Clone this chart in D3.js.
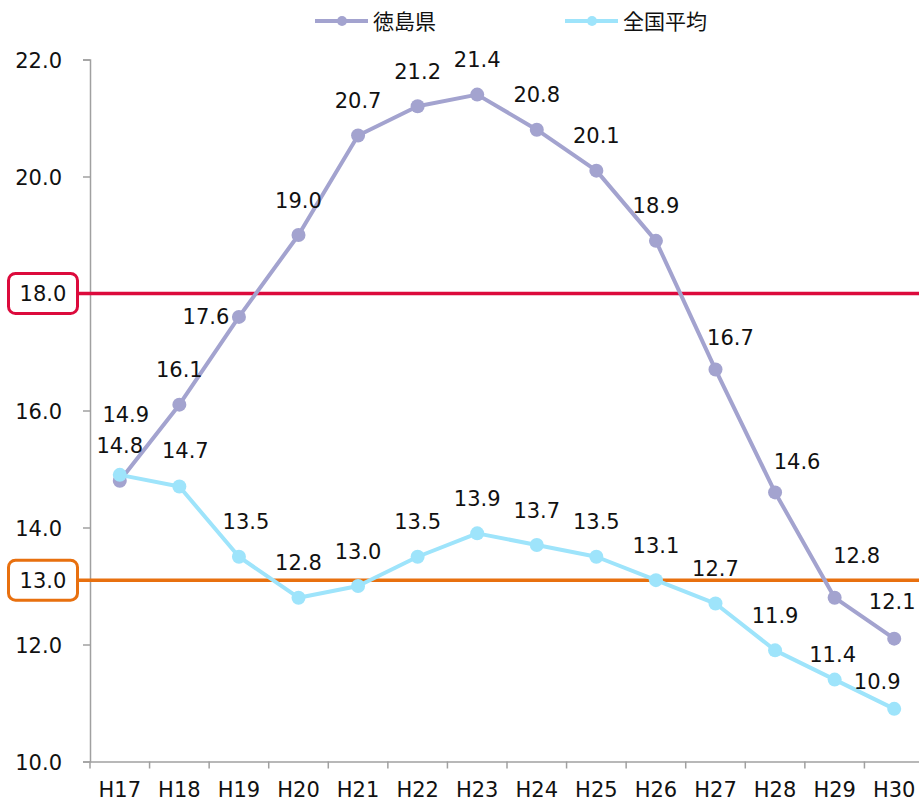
<!DOCTYPE html>
<html>
<head>
<meta charset="utf-8">
<script src="https://cdn.jsdelivr.net/npm/d3@7"></script>
<style>
  body { margin: 0; background: #fff; }
  svg { display: block; font-family: Verdana, "DejaVu Sans", sans-serif; }
</style>
</head>
<body>
<div id="chart"></div>
<script>
const years = ["H17", "H18", "H19", "H20", "H21", "H22", "H23", "H24", "H25", "H26", "H27", "H28", "H29", "H30"];
const tokushima = [14.8, 16.1, 17.6, 19.0, 20.7, 21.2, 21.4, 20.8, 20.1, 18.9, 16.7, 14.6, 12.8, 12.1];
const national = [14.9, 14.7, 13.5, 12.8, 13.0, 13.5, 13.9, 13.7, 13.5, 13.1, 12.7, 11.9, 11.4, 10.9];
const yTicks = [10, 12, 14, 16, 18, 20, 22];
const seriesNames = ["徳島県", "全国平均"];
// reference lines: value on the scale, text in box
const refLines = [
  { value: 18.0, label: "18.0", color: "#dc0a3c" },
  { value: 13.1, label: "13.0", color: "#e8700f" }
];

const W = 919, H = 799;
const colors = ["#a3a3cf", "#9ee4fb"];
const fontSize = "21px";

// label nudges per point (default: centred, 35px above)
const nudge = [
  { 0: [0, -35], 2: [-33, 0], 10: [15, -32], 11: [22, -31], 12: [22, -42], 13: [-2, -37] },
  { 0: [6, -60], 1: [6, -36], 2: [7, -35], 12: [-2, -25], 13: [-17, -27] }
];

const svg = d3.select("#chart").append("svg")
  .attr("width", W).attr("height", H);

const x = d3.scaleBand().domain(years).range([90, 924]);
const y = d3.scaleLinear().domain([10, 22]).range([761.5, 59.5]);

// axes
const yAxis = svg.append("g")
  .attr("transform", "translate(90,0)")
  .call(d3.axisLeft(y).tickValues(yTicks).tickSize(7).tickPadding(21).tickFormat(d3.format(".1f")));
const xAxis = svg.append("g")
  .attr("transform", "translate(0,761.5)")
  .call(d3.axisBottom(x).tickSize(7).tickPadding(14).tickSizeOuter(0));
xAxis.selectAll(".tick line").attr("transform", `translate(${-x.bandwidth() / 2},0)`);
xAxis.append("line")
  .attr("x1", x.range()[1]).attr("x2", x.range()[1]).attr("y1", 0).attr("y2", 7)
  .attr("stroke", "#a0a0a0");
[yAxis, xAxis].forEach(a => {
  a.select(".domain").attr("stroke", "#a0a0a0").attr("stroke-width", 1.5);
  a.selectAll(".tick line").attr("stroke", "#a0a0a0").attr("stroke-width", 1.5);
  a.selectAll("text").attr("fill", "#111").style("font-size", fontSize)
    .style("font-family", "Verdana, 'DejaVu Sans', sans-serif");
});
yAxis.selectAll(".tick text").attr("dy", "0.36em");
// tick labels hidden under the boxed reference labels
yAxis.selectAll(".tick text")
  .filter(d => refLines.some(r => Math.abs(y(r.value) - y(d)) < 20))
  .remove();

// reference lines with boxed labels
refLines.forEach(r => {
  const yy = y(r.value);
  svg.append("line")
    .attr("x1", 78).attr("x2", W).attr("y1", yy).attr("y2", yy)
    .attr("stroke", r.color).attr("stroke-width", 3.5);
  svg.append("rect")
    .attr("x", 8.5).attr("y", yy - 20).attr("width", 69).attr("height", 40)
    .attr("rx", 7).attr("fill", "#fff")
    .attr("stroke", r.color).attr("stroke-width", 3);
  svg.append("text")
    .attr("x", 43).attr("y", yy).attr("dy", "0.36em")
    .attr("text-anchor", "middle").attr("fill", "#111")
    .style("font-size", fontSize).text(r.label);
});

// series
const cx = d => x(d) + x.bandwidth() / 2;
const line = d3.line().x((d, i) => cx(years[i])).y(d => y(d));
const series = [tokushima, national];

series.forEach((vals, s) => {
  svg.append("path")
    .datum(vals)
    .attr("d", line)
    .attr("fill", "none")
    .attr("stroke", colors[s])
    .attr("stroke-width", 4)
    .attr("stroke-linejoin", "round");
  svg.selectAll(null)
    .data(vals)
    .join("circle")
    .attr("cx", (d, i) => cx(years[i]))
    .attr("cy", d => y(d))
    .attr("r", 7)
    .attr("fill", colors[s]);
});

series.forEach((vals, s) => {
  svg.selectAll(null)
    .data(vals)
    .join("text")
    .attr("x", (d, i) => cx(years[i]) + (nudge[s][i] ? nudge[s][i][0] : 0))
    .attr("y", (d, i) => y(d) + (nudge[s][i] ? nudge[s][i][1] : -35))
    .attr("dy", "0.36em")
    .attr("text-anchor", "middle")
    .attr("fill", "#111")
    .style("font-size", fontSize)
    .text(d => d.toFixed(1));
});

// legend
const legendX = [315, 565];
seriesNames.forEach((name, s) => {
  const g = svg.append("g").attr("transform", `translate(${legendX[s]},21)`);
  g.append("line").attr("x1", 0).attr("x2", 53).attr("y1", 0).attr("y2", 0)
    .attr("stroke", colors[s]).attr("stroke-width", 4);
  g.append("circle").attr("cx", 27).attr("cy", 0).attr("r", 5).attr("fill", colors[s]);
  g.append("text").attr("x", 58).attr("y", 0).attr("dy", "0.36em")
    .attr("fill", "#111")
    .style("font-family", "'Noto Sans CJK JP', sans-serif")
    .style("font-size", fontSize)
    .text(name);
});
</script>
</body>
</html>
